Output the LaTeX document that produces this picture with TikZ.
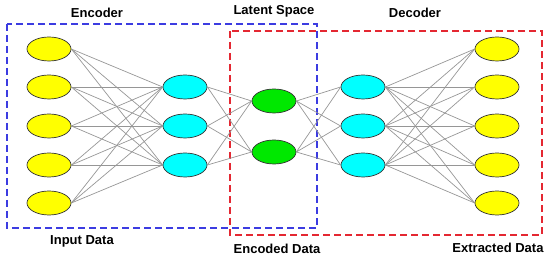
\documentclass[tikz,border=0pt]{standalone}
\usepackage{fontspec}
\setmainfont{Liberation Sans}
\usepackage{tikz}
\usepackage{xcolor}
\usetikzlibrary{shapes.geometric, positioning}
\definecolor{cYellow}{RGB}{255,255,0}
\definecolor{cCyan}{RGB}{0,255,255}
\definecolor{cGreen}{RGB}{0,232,0}
\definecolor{cBlueBox}{RGB}{60,60,225}
\definecolor{cRedBox}{RGB}{228,40,50}
\definecolor{cLink}{RGB}{150,150,150}
\tikzset{
	neuron/.style={ellipse, draw=black!80, line width=0.7pt, minimum width=44pt, minimum height=24pt, inner sep=0pt},
	inneuron/.style={neuron, fill=cYellow},
	hidneuron/.style={neuron, fill=cCyan},
	latneuron/.style={neuron, fill=cGreen},
	link/.style={draw=cLink, line width=0.7pt},
	groupbox/.style={dashed, dash pattern=on 7pt off 4pt, line width=1.4pt},
	caption/.style={font=\bfseries\fontsize{13}{15}\selectfont, text=black},
}

\begin{document}
\begin{tikzpicture}[x=1pt, y=-1pt]
			\useasboundingbox (0,0) rectangle (550,261);
			% group boxes
			\draw[groupbox, draw=cRedBox] (230,31) rectangle (542,235);
			\draw[groupbox, draw=cBlueBox] (7,24) rectangle (317,228);
			% layers
			\foreach \i/\y in {1/49, 2/87, 3/126, 4/165, 5/203} {
				\coordinate (in\i) at (49,\y);
				\coordinate (out\i) at (497,\y);
			}
			\foreach \i/\y in {1/87, 2/126, 3/165} {
				\coordinate (en\i) at (185,\y);
				\coordinate (de\i) at (363,\y);
			}
			\foreach \i/\y in {1/101, 2/152} {
				\coordinate (la\i) at (274,\y);
			}
			\foreach \i in {1,...,5} {
				\node[inneuron] (in\i) at (in\i) {};
				\node[inneuron] (out\i) at (out\i) {};
			}
			\foreach \i in {1,2,3} {
				\node[hidneuron] (en\i) at (en\i) {};
				\node[hidneuron] (de\i) at (de\i) {};
			}
			\foreach \i in {1,2} {
				\node[latneuron] (la\i) at (la\i) {};
			}
			% connections
			\foreach \a in {1,...,5} {
				\foreach \b in {1,2,3} {
					\draw[link] (in\a.east) -- (en\b.west);
					\draw[link] (de\b.east) -- (out\a.west);
				}
			}
			\foreach \a in {1,2,3} {
				\foreach \b in {1,2} {
					\draw[link] (en\a.east) -- (la\b.west);
					\draw[link] (la\b.east) -- (de\a.west);
				}
			}
			% captions
			\node[caption] (encoder) at (97,13) {Encoder};
			\node[caption] (latent) at (274,11) {Latent Space};
			\node[caption] (decoder) at (415,13) {Decoder};
			\node[caption] (inputdata) at (82,241) {Input Data};
			\node[caption] (encodeddata) at (277,249) {Encoded Data};
			\node[caption] (extracted) at (498,248) {Extracted Data};
		\end{tikzpicture}
\end{document}
